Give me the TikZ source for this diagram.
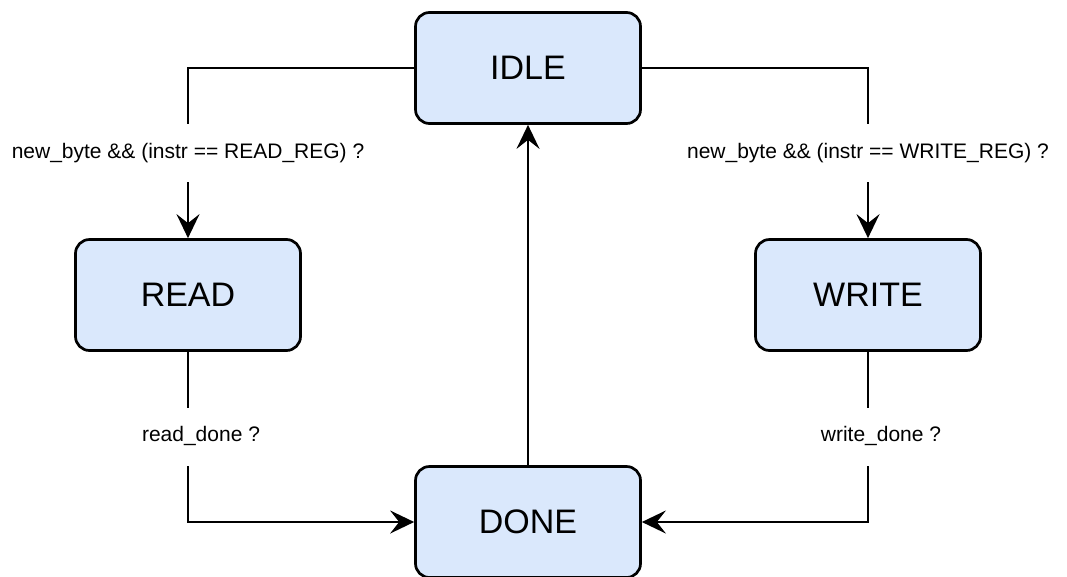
\documentclass[tikz,border=0pt]{standalone}
\usepackage{fontspec}
\setmainfont{Liberation Sans}
\usetikzlibrary{arrows.meta, positioning}
\definecolor{stateblue}{HTML}{DAE8FC}

\begin{document}
\begin{tikzpicture}[x=1pt, y=-1pt,
    statebox/.style={draw=black, line width=2.7pt, fill=stateblue, rounded corners=14pt,
        minimum width=225pt, minimum height=111pt, inner sep=0pt, font=\fontsize{34}{40}\selectfont},
    guard/.style={fill=white, inner xsep=2pt, inner ysep=0pt, text height=15pt, text depth=5pt,
        minimum height=58pt, font=\fontsize{21}{24}\selectfont},
    trans/.style={line width=2.3pt, -{Stealth[length=24pt, width=23pt, inset=9pt]}}]

        % fixing the page to the size of the reference
        \useasboundingbox (0,0) rectangle (1067,576);

        % the four states
        \node[statebox] (idle)  at (528,68)  {IDLE};
        \node[statebox] (read)  at (188,295) {READ};
        \node[statebox] (write) at (868,295) {WRITE};
        \node[statebox] (done)  at (528,522) {DONE};

        % leaving IDLE on a new byte
        \draw[trans] (idle.west) -| node[guard, pos=0.75] (rdguard) {new\_byte \&\& (instr == READ\_REG) ?} (read.north);
        \draw[trans] (idle.east) -| node[guard, pos=0.75] (wrguard) {new\_byte \&\& (instr == WRITE\_REG) ?} (write.north);

        % going on to DONE
        \draw[trans] (read.south) |- node[guard, pos=0.25, xshift=13pt] (rdone) {read\_done ?} (done.west);
        \draw[trans] (write.south) |- node[guard, pos=0.25, xshift=13pt] (wdone) {write\_done ?} (done.east);

        % back to IDLE
        \draw[trans] (done) -- (idle);
\end{tikzpicture}
\end{document}
